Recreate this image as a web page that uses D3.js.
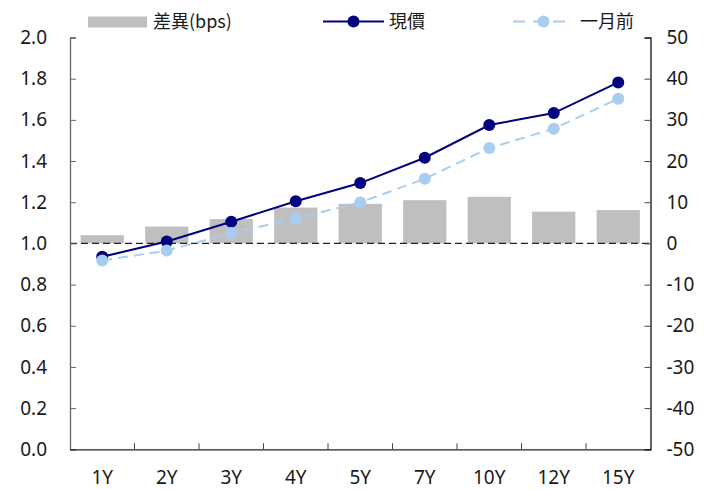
<!DOCTYPE html>
<html>
<head>
<meta charset="utf-8">
<script src="https://cdn.jsdelivr.net/npm/d3@7"></script>
<style>
  html, body { margin: 0; padding: 0; background: #fff; }
  svg { display: block; }
  text { font-family: "Noto Sans", "Noto Sans CJK TC", sans-serif; fill: #1a1a1a; }
</style>
</head>
<body>
<svg id="chart" width="709" height="490"></svg>
<script>
const categories = ["1Y","2Y","3Y","4Y","5Y","7Y","10Y","12Y","15Y"];
const currentYield = [0.935, 1.009, 1.105, 1.205, 1.293, 1.416, 1.575, 1.633, 1.782];
const monthAgoYield = [0.917, 0.965, 1.050, 1.121, 1.199, 1.314, 1.463, 1.557, 1.703];
const diffBps = [2.0, 4.1, 5.9, 8.7, 9.6, 10.5, 11.3, 7.7, 8.1];
const leftTicks = [0, 0.2, 0.4, 0.6, 0.8, 1.0, 1.2, 1.4, 1.6, 1.8, 2.0];
const rightTicks = [-50, -40, -30, -20, -10, 0, 10, 20, 30, 40, 50];
const legendLabels = ["差異(bps)", "現價", "一月前"];

const svg = d3.select("#chart");
const L = 70, R = 650.5, T = 37.5, B = 449.3;

const x = d3.scaleBand().domain(categories).range([L, R]).padding(0);
const yL = d3.scaleLinear().domain([0, 2]).range([B, T]);
const yR = d3.scaleLinear().domain([-50, 50]).range([B, T]);

const navy = "#000080", light = "#a9cdf0", grey = "#bfbfbf";
const bw = x.bandwidth();

// bars
svg.append("g").selectAll("rect").data(categories).join("rect")
  .attr("x", (d) => x(d) + bw * 0.165)
  .attr("width", bw * 0.67)
  .attr("y", (d, i) => Math.min(yR(diffBps[i]), yR(0)))
  .attr("height", (d, i) => Math.abs(yR(diffBps[i]) - yR(0)))
  .attr("fill", grey);

// zero dashed line
svg.append("line")
  .attr("x1", L).attr("x2", R)
  .attr("y1", yR(0)).attr("y2", yR(0))
  .attr("stroke", "#222").attr("stroke-width", 1.3)
  .attr("stroke-dasharray", "7,4");

// axes
const axL = svg.append("g").attr("transform", `translate(${L},0)`)
  .call(d3.axisRight(yL).tickValues(leftTicks).tickSize(6).tickFormat(d3.format(".1f")));
axL.select(".domain").attr("stroke", "#666");
axL.selectAll(".tick line").attr("stroke", "#666");
axL.selectAll(".tick text").attr("x", -23).attr("text-anchor", "end")
  .style("font-size", "19px");

const axR = svg.append("g").attr("transform", `translate(${R},0)`)
  .call(d3.axisLeft(yR).tickValues(rightTicks).tickSize(6).tickFormat((d) => String(d)));
axR.select(".domain").attr("stroke", "#111");
axR.selectAll(".tick line").attr("stroke", "#444");
axR.selectAll(".tick text").attr("x", 16).attr("text-anchor", "start")
  .style("font-size", "19px");

const axB = svg.append("g").attr("transform", `translate(0,${B})`)
  .call(d3.axisBottom(x).tickSize(0));
axB.select(".domain").attr("stroke", "#222");
axB.selectAll(".tick text").attr("y", 21).attr("dy", "0.71em").style("font-size", "19px");
// tick marks between categories
svg.append("g").selectAll("line").data(categories.slice(1)).join("line")
  .attr("x1", (d) => x(d)).attr("x2", (d) => x(d))
  .attr("y1", B).attr("y2", B - 6)
  .attr("stroke", "#444");
svg.selectAll(".domain").attr("stroke-width", 1.3);
svg.selectAll("g text").attr("fill", "#1a1a1a").attr("font-family", "Noto Sans, Noto Sans CJK TC, sans-serif");

const cx = (d) => x(d) + bw / 2;

// current line
const lineCur = d3.line().x((d, i) => cx(categories[i])).y((d) => yL(d));
svg.append("path").datum(currentYield).attr("d", lineCur)
  .attr("fill", "none").attr("stroke", navy).attr("stroke-width", 2);
svg.append("g").selectAll("circle").data(currentYield).join("circle")
  .attr("cx", (d, i) => cx(categories[i])).attr("cy", (d) => yL(d))
  .attr("r", 6).attr("fill", navy);

// month ago line
svg.append("path").datum(monthAgoYield).attr("d", lineCur)
  .attr("fill", "none").attr("stroke", light).attr("stroke-width", 2)
  .attr("stroke-dasharray", "10,6");
svg.append("g").selectAll("circle").data(monthAgoYield).join("circle")
  .attr("cx", (d, i) => cx(categories[i])).attr("cy", (d) => yL(d))
  .attr("r", 6).attr("fill", light);

// legend
const lg = svg.append("g");
const ly = 21.5;
lg.append("rect").attr("x", 88).attr("y", 16.5).attr("width", 59).attr("height", 11).attr("fill", grey);
lg.append("text").attr("x", 153).attr("y", ly).attr("dy", "0.35em")
  .style("font-size", "18px").style("font-family", "'Noto Sans CJK TC', sans-serif").text(legendLabels[0]);

lg.append("line").attr("x1", 323).attr("x2", 384).attr("y1", ly).attr("y2", ly)
  .attr("stroke", navy).attr("stroke-width", 2);
lg.append("circle").attr("cx", 353.5).attr("cy", ly).attr("r", 6).attr("fill", navy);
lg.append("text").attr("x", 389).attr("y", ly).attr("dy", "0.35em")
  .style("font-size", "18px").style("font-family", "'Noto Sans CJK TC', sans-serif").text(legendLabels[1]);

lg.append("line").attr("x1", 513).attr("x2", 573).attr("y1", ly).attr("y2", ly)
  .attr("stroke", light).attr("stroke-width", 2).attr("stroke-dasharray", "12,8");
lg.append("circle").attr("cx", 543.5).attr("cy", ly).attr("r", 6).attr("fill", light);
lg.append("text").attr("x", 580).attr("y", ly).attr("dy", "0.35em")
  .style("font-size", "18px").style("font-family", "'Noto Sans CJK TC', sans-serif").text(legendLabels[2]);
</script>
</body>
</html>
